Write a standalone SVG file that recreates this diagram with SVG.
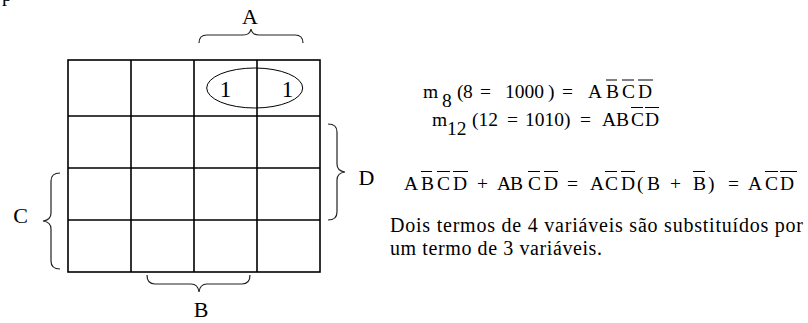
<svg xmlns="http://www.w3.org/2000/svg" width="808" height="323" viewBox="0 0 808 323">
<style>
  text { font-family: "Liberation Serif", "Times New Roman", serif; fill: #000; }
  .grid { fill: none; stroke: #000; stroke-width: 1.6; }
  .loop { fill: none; stroke: #000; stroke-width: 1; }
  .brace { fill: none; stroke: #222; stroke-width: 1.2; }
  .ov { stroke: #000; stroke-width: 1; }
  .lbl { font-size: 22px; }
  .one { font-size: 23px; text-anchor: middle; }
  .eq { font-size: 19.5px; }
  .txt { font-size: 20px; }
</style>
<rect width="808" height="323" fill="#fff"/>
<text x="2" y="1" class="txt">p</text>

<g id="kmap">
  <rect class="grid" x="68" y="60" width="252" height="212"/>
  <path class="grid" d="M131,60V272M194,60V272M257,60V272M68,116H320M68,168H320M68,220H320"/>
</g>

<g id="group-loop">
  <ellipse class="loop" cx="254.7" cy="88" rx="48" ry="20"/>
  <text class="one" x="225.5" y="97">1</text>
  <text class="one" x="287.5" y="97">1</text>
</g>

<g id="connectors">
  <path id="brace-A" class="brace" d="M199,43 Q199,35 207,35 L243,35 Q250,35 251,29 Q252,35 259,35 L295,35 Q303,35 303,43"/>
  <path id="brace-B" class="brace" d="M147,275 Q147,284 155,284 L191,284 Q198,284 199,292 Q200,284 207,284 L242,284 Q250,284 250,275"/>
  <path id="brace-D" class="brace" d="M328,124 Q337,124 337,132 L337,164 Q337,171 345,172 Q337,173 337,180 L337,212 Q337,220 328,220"/>
  <path id="brace-C" class="brace" d="M60,173 Q51,173 51,181 L51,213 Q51,220 43,221 Q51,222 51,229 L51,261 Q51,269 60,269"/>
</g>

<g id="label-A"><text class="lbl" x="250" y="24" text-anchor="middle">A</text></g>
<g id="label-B"><text class="lbl" x="201" y="317" text-anchor="middle">B</text></g>
<g id="label-C"><text class="lbl" x="20.5" y="223" text-anchor="middle">C</text></g>
<g id="label-D"><text class="lbl" x="366.5" y="185" text-anchor="middle">D</text></g>

<g id="eq-m8">
  <text class="eq" y="98"><tspan x="423">m</tspan><tspan x="442" y="106.5">8</tspan><tspan x="457" y="98">(</tspan><tspan x="463">8</tspan><tspan x="480">=</tspan><tspan x="505">1000</tspan><tspan x="548">)</tspan><tspan x="562">=</tspan><tspan x="588">A</tspan><tspan x="606">B</tspan><tspan x="622">C</tspan><tspan x="638">D</tspan></text>
  <path class="ov" d="M606,80H617M622,80H634M638,80H653"/>
</g>

<g id="eq-m12">
  <text class="eq" y="126"><tspan x="432">m</tspan><tspan x="447" y="135">12</tspan><tspan x="472" y="126">(12</tspan><tspan x="507">=</tspan><tspan x="525">1010)</tspan><tspan x="580">=</tspan><tspan x="602">A</tspan><tspan x="616">B</tspan><tspan x="631">C</tspan><tspan x="645">D</tspan></text>
  <path class="ov" d="M631,107.5H643M645,107.5H659"/>
</g>

<g id="eq-simplify">
  <text class="eq" y="190"><tspan x="404">A</tspan><tspan x="421">B</tspan><tspan x="437">C</tspan><tspan x="453">D</tspan><tspan x="477">+</tspan><tspan x="497">A</tspan><tspan x="510">B</tspan><tspan x="528">C</tspan><tspan x="544">D</tspan><tspan x="567">=</tspan><tspan x="590">A</tspan><tspan x="605">C</tspan><tspan x="621">D</tspan><tspan x="637">(</tspan><tspan x="647">B</tspan><tspan x="670">+</tspan><tspan x="693">B</tspan><tspan x="708">)</tspan><tspan x="728">=</tspan><tspan x="748">A</tspan><tspan x="765">C</tspan><tspan x="780">D</tspan></text>
  <path class="ov" d="M421,171.5H432M437,171.5H450M453,171.5H468M528,171.5H540M544,171.5H558M605,171.5H617M621,171.5H635M693,171.5H705M765,171.5H778M780,171.5H797"/>
</g>

<g id="note">
  <text class="txt" x="390" y="231.5" textLength="413">Dois termos de 4 variáveis são substituídos por</text>
  <text class="txt" x="390" y="255" textLength="212">um termo de 3 variáveis.</text>
</g>
</svg>
